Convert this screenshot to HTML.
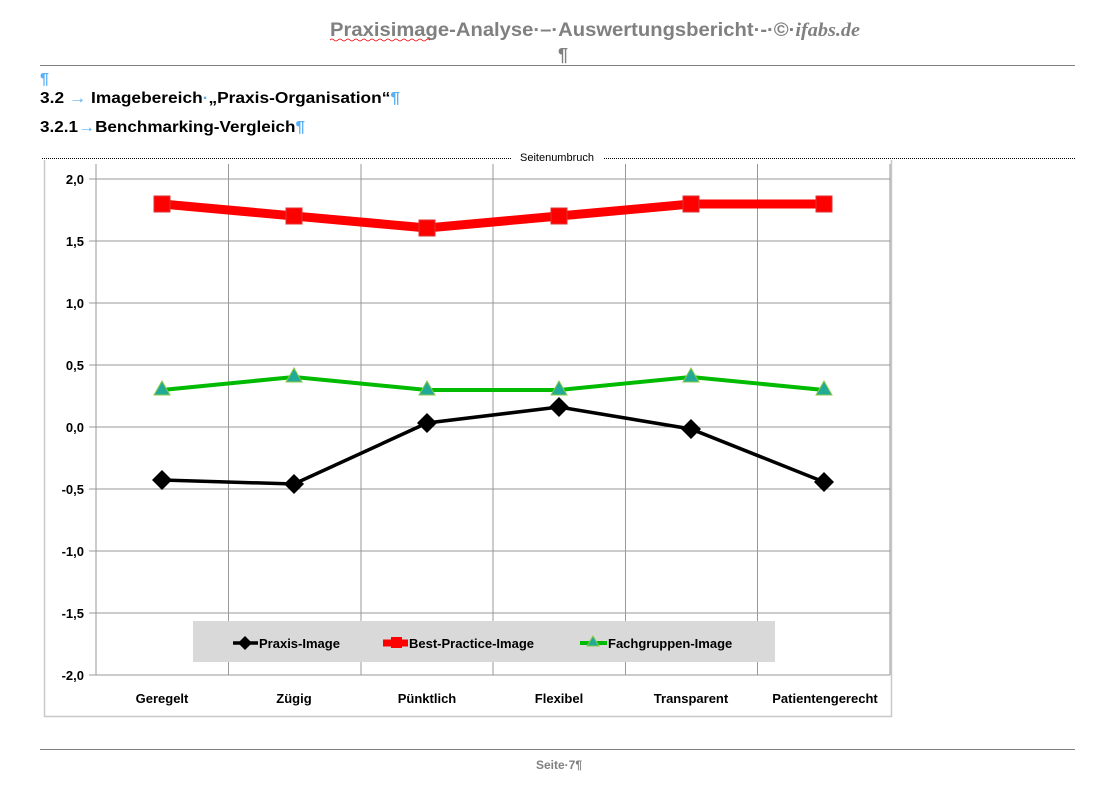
<!DOCTYPE html><html><head><meta charset="utf-8"><style>body{margin:0;background:#fff;width:1098px;height:793px;overflow:hidden;font-family:"Liberation Sans",sans-serif}</style></head><body>
<svg width="1098" height="793" xmlns="http://www.w3.org/2000/svg" font-family="Liberation Sans, sans-serif">
<text x="330" y="36" font-size="19" font-weight="bold" fill="#808080" textLength="530" lengthAdjust="spacingAndGlyphs">Praxisimage-Analyse·–·Auswertungsbericht·-·©·<tspan font-style="italic" font-family="Liberation Serif">ifabs.de</tspan></text>
<path d="M330 40 q2 -2 4 0 t4 0 t4 0 t4 0 t4 0 t4 0 t4 0 t4 0 t4 0 t4 0 t4 0 t4 0 t4 0 t4 0 t4 0 t4 0 t4 0 t4 0 t4 0 t4 0 t4 0 t4 0 t4 0 t4 0 t4 0" stroke="#e00" fill="none" stroke-width="0.8"/>
<text x="563" y="61" text-anchor="middle" font-size="18" font-weight="bold" fill="#808080">¶</text>
<line x1="40" y1="65.5" x2="1075" y2="65.5" stroke="#808080"/>
<text x="40" y="84" font-size="16" font-weight="bold" fill="#5ab0f5">¶</text>
<text x="40" y="103" font-size="16" font-weight="bold" fill="#000" textLength="360" lengthAdjust="spacingAndGlyphs">3.2 <tspan fill="#5ab0f5">→</tspan> Imagebereich<tspan fill="#5ab0f5">·</tspan>„Praxis-Organisation“<tspan fill="#5ab0f5">¶</tspan></text>
<text x="40" y="132" font-size="16" font-weight="bold" fill="#000" textLength="265" lengthAdjust="spacingAndGlyphs">3.2.1<tspan fill="#5ab0f5">→</tspan>Benchmarking-Vergleich<tspan fill="#5ab0f5">¶</tspan></text>
<line x1="42" y1="158.5" x2="1075" y2="158.5" stroke="#000" stroke-dasharray="1,1"/>
<rect x="511" y="150" width="92" height="12" fill="#fff"/>
<text x="557" y="161" text-anchor="middle" font-size="11" fill="#000">Seitenumbruch</text>
<path d="M44.5 160 V716.5 H891.5 V160" fill="none" stroke="#c8c8c8" stroke-width="1.5"/>
<g stroke="#999" stroke-width="1">
<line x1="96" y1="164" x2="96" y2="675"/><line x1="228.5" y1="164" x2="228.5" y2="675"/><line x1="361" y1="164" x2="361" y2="675"/><line x1="493" y1="164" x2="493" y2="675"/><line x1="625.5" y1="164" x2="625.5" y2="675"/><line x1="757.5" y1="164" x2="757.5" y2="675"/><line x1="890" y1="164" x2="890" y2="675"/>
<line x1="89" y1="179" x2="890" y2="179"/><line x1="89" y1="241" x2="890" y2="241"/><line x1="89" y1="303" x2="890" y2="303"/><line x1="89" y1="365" x2="890" y2="365"/><line x1="89" y1="427" x2="890" y2="427"/><line x1="89" y1="489" x2="890" y2="489"/><line x1="89" y1="551" x2="890" y2="551"/><line x1="89" y1="613" x2="890" y2="613"/><line x1="89" y1="675" x2="890" y2="675"/>
</g>
<g font-size="13" font-weight="bold" text-anchor="end" fill="#000">
<text x="84" y="184">2,0</text><text x="84" y="246">1,5</text><text x="84" y="308">1,0</text><text x="84" y="370">0,5</text><text x="84" y="432">0,0</text><text x="84" y="494">-0,5</text><text x="84" y="556">-1,0</text><text x="84" y="618">-1,5</text><text x="84" y="680">-2,0</text>
</g>
<g font-size="13" font-weight="bold" text-anchor="middle" fill="#000">
<text x="162" y="703">Geregelt</text><text x="294" y="703">Zügig</text><text x="427" y="703">Pünktlich</text><text x="559" y="703">Flexibel</text><text x="691" y="703">Transparent</text><text x="825" y="703">Patientengerecht</text>
</g>
<polyline points="162,204 294,216 427,228 559,216 691,204 824,204" fill="none" stroke="#f00" stroke-width="9"/>
<g fill="#f00" stroke="#d33" stroke-width="1"><rect x="154" y="196" width="16" height="16"/><rect x="286" y="208" width="16" height="16"/><rect x="419" y="220" width="16" height="16"/><rect x="551" y="208" width="16" height="16"/><rect x="683" y="196" width="16" height="16"/><rect x="816" y="196" width="16" height="16"/></g>
<polyline points="162,390 294,377 427,390 559,390 691,377 824,390" fill="none" stroke="#0b0" stroke-width="4"/>
<g fill="#2a9" stroke="#8c4" stroke-width="1"><path d="M162 381 l8 14 h-16z"/><path d="M294 368 l8 14 h-16z"/><path d="M427 381 l8 14 h-16z"/><path d="M559 381 l8 14 h-16z"/><path d="M691 368 l8 14 h-16z"/><path d="M824 381 l8 14 h-16z"/></g>
<polyline points="162,480 294,484 427,423 559,407 691,429 824,482" fill="none" stroke="#000" stroke-width="3.5"/>
<g fill="#000"><path d="M162 470 l10 10 -10 10 -10 -10z"/><path d="M294 474 l10 10 -10 10 -10 -10z"/><path d="M427 413 l10 10 -10 10 -10 -10z"/><path d="M559 397 l10 10 -10 10 -10 -10z"/><path d="M691 419 l10 10 -10 10 -10 -10z"/><path d="M824 472 l10 10 -10 10 -10 -10z"/></g>
<rect x="193" y="621" width="582" height="41" fill="#d9d9d9"/>
<line x1="233" y1="643" x2="258" y2="643" stroke="#000" stroke-width="3.5"/><path d="M245 636 l7 7 -7 7 -7 -7z"/>
<text x="259" y="648" font-size="13" font-weight="bold">Praxis-Image</text>
<line x1="383" y1="643" x2="408" y2="643" stroke="#f00" stroke-width="7"/><rect x="391" y="637" width="11" height="11" fill="#f00"/>
<text x="409" y="648" font-size="13" font-weight="bold">Best-Practice-Image</text>
<line x1="580" y1="643" x2="607" y2="643" stroke="#0b0" stroke-width="4"/><path d="M593 636 l6 10 h-12z" fill="#2a9" stroke="#8c4"/>
<text x="608" y="648" font-size="13" font-weight="bold">Fachgruppen-Image</text>
<line x1="40" y1="749.5" x2="1075" y2="749.5" stroke="#808080"/>
<text x="559" y="769" text-anchor="middle" font-size="12" font-weight="bold" fill="#808080">Seite·7¶</text>
</svg></body></html>
